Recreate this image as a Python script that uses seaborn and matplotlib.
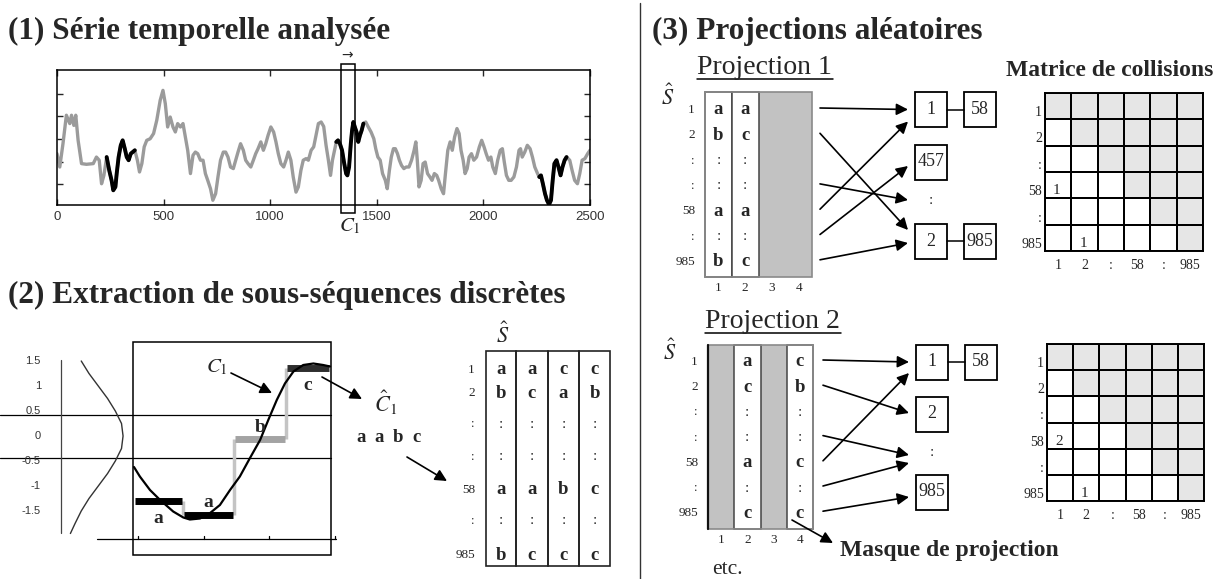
import numpy as np
import pandas as pd
import matplotlib
matplotlib.use('Agg')
import matplotlib.pyplot as plt
from matplotlib.patches import Rectangle
from matplotlib.colors import ListedColormap
import seaborn as sns

sns.set_theme(style='white')
plt.rcParams['font.family'] = ['Liberation Serif', 'DejaVu Serif']
plt.rcParams['mathtext.fontset'] = 'stix'

# ---------------- data ----------------
# (1) analysed time series
ts_x = [0, 13, 28, 44, 60, 68, 79, 88, 99, 115,
        138, 170, 185, 198, 209, 220, 233, 245, 256, 264,
        274, 280, 289, 299, 308, 318, 327, 336, 346, 355,
        365, 377, 387, 398, 409, 421, 437, 453, 468, 484,
        497, 508, 519, 531, 544, 555, 566, 579, 591, 602,
        613, 626, 638, 649, 660, 673, 685, 696, 707, 720,
        731, 744, 755, 767, 780, 791, 802, 814, 827, 838,
        849, 861, 874, 885, 896, 909, 921, 932, 943, 956,
        968, 979, 990, 1003, 1016, 1027, 1038, 1050, 1063, 1074,
        1085, 1097, 1108, 1121, 1132, 1144, 1155, 1168, 1179, 1192,
        1204, 1215, 1226, 1239, 1251, 1262, 1273, 1283, 1292, 1302,
        1310, 1318, 1327, 1337, 1346, 1356, 1362, 1370, 1378, 1384,
        1390, 1397, 1405, 1413, 1421, 1429, 1437, 1448, 1460, 1473,
        1486, 1495, 1505, 1516, 1527, 1540, 1549, 1559, 1568, 1578,
        1587, 1597, 1606, 1616, 1627, 1638, 1651, 1663, 1675, 1683,
        1690, 1698, 1708, 1717, 1727, 1738, 1749, 1759, 1770, 1781,
        1790, 1802, 1813, 1822, 1833, 1844, 1854, 1865, 1876, 1886,
        1895, 1905, 1914, 1924, 1933, 1944, 1955, 1968, 1981, 1992,
        2003, 2013, 2024, 2035, 2044, 2056, 2067, 2079, 2089, 2098,
        2108, 2119, 2130, 2143, 2155, 2167, 2174, 2182, 2194, 2206,
        2219, 2230, 2241, 2254, 2262, 2270, 2279, 2289, 2298, 2308,
        2317, 2325, 2333, 2343, 2352, 2362, 2371, 2381, 2390, 2405,
        2416, 2428, 2441, 2452, 2463, 2476, 2489, 2500]
ts_y = [-0.65, -1.24, -0.21, 1.05, 0.68, 1.05, 0.60, 1.05, -0.06, -1.09,
        -1.12, -1.09, -0.80, -0.94, -1.98, -1.61, -0.80, -1.39, -1.83, -2.27,
        -2.12, -1.53, -0.80, -0.28, -0.06, -0.43, -0.80, -0.94, -0.65, -0.58,
        -0.50, -0.94, -1.46, -1.09, -0.35, -0.06, 0.01, 0.24, 0.83, 1.71,
        2.15, 1.56, 0.53, 0.97, 0.53, 0.31, 0.68, 0.53, 0.68, 0.09,
        -0.50, -1.53, -0.72, -0.58, -0.65, -0.94, -0.94, -1.53, -1.83, -2.20,
        -2.71, -2.42, -1.68, -0.94, -0.58, -0.58, -0.80, -1.24, -1.31, -0.94,
        -0.58, -0.21, -0.50, -0.94, -1.09, -1.24, -0.94, -0.65, -0.43, -0.13,
        -0.50, -0.21, 0.16, 0.53, 0.31, -0.13, -0.65, -1.09, -1.24, -0.94,
        -0.58, -0.94, -1.68, -2.35, -2.12, -1.39, -0.94, -0.87, -0.94, -0.50,
        -0.35, 0.16, 0.68, 0.75, 0.55, -0.28, -0.94, -1.61, -0.94, -0.50,
        -0.13, -0.06, -0.21, -0.50, -1.02, -1.53, -1.61, -1.24, -0.21, 0.38,
        0.75, 0.53, 0.31, -0.13, 0.16, 0.38, 0.68, 0.75, 0.53, 0.31,
        0.01, -0.43, -0.80, -0.94, -1.53, -1.83, -2.20, -1.39, -0.80, -0.43,
        -0.43, -0.65, -0.94, -1.17, -1.31, -1.24, -1.24, -0.94, -0.50, -0.13,
        -0.94, -2.12, -1.83, -1.09, -1.02, -1.53, -1.68, -1.83, -1.53, -1.61,
        -1.83, -2.20, -2.42, -1.53, -0.50, -0.13, -0.50, 0.09, 0.46, 0.24,
        -0.50, -0.94, -1.53, -1.31, -0.80, -0.65, -0.94, -0.80, -0.35, -0.06,
        -0.35, -0.65, -0.94, -0.80, -1.24, -1.53, -0.94, -0.50, -0.43, -1.02,
        -1.61, -1.83, -1.83, -1.68, -1.24, -0.50, -0.43, -0.80, -0.58, -0.28,
        -0.43, -0.80, -1.24, -1.53, -1.68, -1.61, -1.98, -2.42, -2.71, -2.90,
        -2.71, -1.83, -1.09, -0.94, -1.24, -1.61, -1.24, -0.94, -0.80, -0.94,
        -1.39, -1.83, -1.98, -1.53, -0.94, -0.87, -0.65, -0.50]
motif_spans = [(233, 365), (1310, 1437), (2262, 2390)]
c1_window = (1333, 1400)
ts_ticks = [0, 500, 1000, 1500, 2000, 2500]

# (2) SAX discretisation of C1
sax_t = [0, 1.8, 4.9, 8, 12, 15.1, 17.1, 20.2, 23.3, 26.3, 29.4,
         32.4, 35.5, 38.6, 41.1, 43.7, 46.2, 48.8, 51.8, 54.9, 57.9, 60]
sax_v = [-0.62, -0.81, -1.08, -1.28, -1.51, -1.63, -1.67, -1.65, -1.54, -1.38, -1.08,
         -0.81, -0.44, -0.08, 0.32, 0.72, 1.05, 1.29, 1.42, 1.45, 1.42, 1.39]
paa_edges = [0, 15, 30.5, 46.5, 60]
paa_levels = [-1.29, -1.58, -0.05, 1.36]
paa_symbols = ['a', 'a', 'b', 'c']
breakpoints = [-0.43, 0.43]
gauss_y = [1.5, 1.25, 1.0, 0.75, 0.5, 0.25, 0.0, -0.25, -0.5, -0.75, -1.0, -1.25, -1.5, -1.75, -1.95]
gauss_d = [0.13, 0.18, 0.24, 0.30, 0.35, 0.39, 0.40, 0.39, 0.35, 0.30, 0.24, 0.18, 0.13, 0.09, 0.06]
sax_yticks = [1.5, 1, 0.5, 0, -0.5, -1, -1.5]
sax_yticklabels = ['1.5', '1', '0.5', '0', '-0.5', '-1', '-1.5']

# words table S^
row_labels = ['1', '2', ':', ':', '58', ':', '985']
words = {'1': 'aacc', '2': 'bcab', '58': 'aabc', '985': 'bccc'}

# (3) random projections
mask_1 = [1, 1, 0, 0]
mask_2 = [0, 1, 0, 1]
buckets_1 = ['1', '457', ':', '2']
partners_1 = ['58', '', '', '985']
buckets_2 = ['1', '2', ':', '985']
partners_2 = ['58', '', '', '']
links_1 = [(0, 0), (1, 3), (3, 2), (4, 0), (5, 1), (6, 3)]
links_2 = [(0, 0), (1, 1), (3, 2), (4, 0), (5, 2), (6, 3)]
matrix_labels = ['1', '2', ':', '58', ':', '985']
collisions_1 = {(3, 0): 1, (5, 1): 1}
collisions_2 = {(3, 0): 2, (5, 1): 1}

# ---------------- figure ----------------
W, H = 1216, 579
fig = plt.figure(figsize=(W / 100, H / 100), dpi=100)


def px_axes(x0, y0, x1, y1):
    return fig.add_axes([x0 / W, 1 - y1 / H, (x1 - x0) / W, (y1 - y0) / H])


ov = px_axes(0, 0, W, H)
ov.set_xlim(0, W)
ov.set_ylim(H, 0)
ov.axis('off')
ov.set_zorder(10)

ARW = dict(arrowstyle='-|>,head_length=0.5,head_width=0.25', color='black',
           lw=1.2, mutation_scale=14, shrinkA=0, shrinkB=0)


def arrow(x0, y0, x1, y1):
    ov.annotate('', xy=(x1, y1), xytext=(x0, y0), arrowprops=ARW)


# titles
ov.text(8, 39, '(1) Série temporelle analysée', fontsize=22.5, fontweight='bold')
ov.text(8, 303, '(2) Extraction de sous-séquences discrètes', fontsize=22.5, fontweight='bold')
ov.text(652, 39, '(3) Projections aléatoires', fontsize=22.5, fontweight='bold')
ov.plot([640, 640], [3, 579], color='#333', lw=1)

# ---- panel 1 : time series
ax1 = px_axes(57, 70, 590, 205)
df_ts = pd.DataFrame({'t': ts_x, 'v': ts_y})
sns.lineplot(data=df_ts, x='t', y='v', ax=ax1, color='#9b9b9b', lw=2.4,
             estimator=None, sort=False)
for a, b in motif_spans:
    seg = df_ts[(df_ts.t >= a) & (df_ts.t <= b)]
    sns.lineplot(data=seg, x='t', y='v', ax=ax1, color='black', lw=2.8,
                 estimator=None, sort=False)
ax1.set_xlim(0, 2500)
ax1.set_ylim(-2.92, 3.05)
ax1.set_xticks(ts_ticks)
ax1.set_xticklabels([str(t) for t in ts_ticks], family='Liberation Sans')
ax1.set_yticks([-2, -1, 0, 1, 2])
ax1.set_yticklabels([])
ax1.set_xlabel('')
ax1.set_ylabel('')
ax1.tick_params(direction='in', length=4, width=1, top=True, right=True,
                bottom=True, left=True, labelsize=9.5, labelcolor='#333', pad=4)
for sp in ax1.spines.values():
    sp.set_color('black')
    sp.set_linewidth(1.1)
ax1.add_patch(Rectangle((c1_window[0], -3.27), c1_window[1] - c1_window[0], 6.59,
                        fill=False, ec='black', lw=1.1, clip_on=False))
ov.text(347, 55, '→', family='DejaVu Sans', fontsize=10, ha='center', va='center')
ov.text(350, 226, '$C_1$', fontsize=15, ha='center', va='center')

# ---- panel 2 : SAX
ax2 = px_axes(0, 340, 340, 560)
ax2.axis('off')
for bp in breakpoints:
    ax2.plot([-41, 60.3], [bp, bp], color='black', lw=0.9)
ax2.add_patch(Rectangle((-0.3, -2.38), 60.6, 4.26, fill=False, ec='black', lw=1.1))
ax2.plot([-22.3, -22.3], [1.52, -1.94], color='#444', lw=0.9)
sns.lineplot(x=-22.3 + np.array(gauss_d) * 47.4, y=gauss_y, ax=ax2, color='#333',
             lw=1.0, sort=False, estimator=None)
ax2.plot([-11.3, 61.8], [-2.06, -2.06], color='black', lw=0.9)
for tx in [1.2, 21.4, 41.3, 61.5]:
    ax2.plot([tx, tx], [-2.06, -1.99], color='black', lw=0.9)
for yv, lab in zip(sax_yticks, sax_yticklabels):
    ax2.text(-28.5, yv, lab, ha='right', va='center', fontsize=8,
             family='Liberation Sans', color='#333')
sym_color = {'a': 'black', 'b': '#a3a3a3', 'c': '#2e2e2e'}
for i in range(1, 4):
    ax2.plot([paa_edges[i], paa_edges[i]], [paa_levels[i - 1], paa_levels[i]],
             color='#c4c4c4', lw=2.5, solid_capstyle='butt')
for i, (lvl, s) in enumerate(zip(paa_levels, paa_symbols)):
    ax2.plot([paa_edges[i] + 0.3, paa_edges[i + 1] - 0.3], [lvl, lvl],
             color=sym_color[s], lw=5, solid_capstyle='butt')
sns.lineplot(x=sax_t, y=sax_v, ax=ax2, color='black', lw=1.6, sort=False, estimator=None)
lab_off = [-0.36, 0.25, 0.22, -0.35]
for i, (lvl, s) in enumerate(zip(paa_levels, paa_symbols)):
    ax2.text((paa_edges[i] + paa_edges[i + 1]) / 2, lvl + lab_off[i], s,
             ha='center', va='center', fontsize=14, fontweight='bold')
ax2.set_xlim(-41.0, 63.05)
ax2.set_ylim(-2.48, 1.92)

ov.text(217, 367, '$C_1$', fontsize=15, ha='center', va='center')
arrow(231, 373, 272, 393)
arrow(322, 377, 362, 399)
ov.text(386, 403, r'$\hat{C}_1$', fontsize=16, ha='center', va='center')
for i, s in enumerate(paa_symbols):
    ov.text(361 + 18.5 * i, 438, s, ha='center', va='center', fontsize=13.5, fontweight='bold')
arrow(407, 457, 447, 481)

# S^ table
ov.text(503, 335, r'$\hat{S}$', fontsize=16, ha='center', va='center')
col_edges = [486, 516, 548, 579, 610]
rows_y = [370, 393, 424, 457, 490, 521, 555]
for c in range(4):
    ov.add_patch(Rectangle((col_edges[c], 351), col_edges[c + 1] - col_edges[c], 215,
                           fill=False, ec='#222', lw=1.2))
for r, lab in enumerate(row_labels):
    ov.text(475, rows_y[r], lab, ha='right', va='center', fontsize=9.5)
    for c in range(4):
        xc = (col_edges[c] + col_edges[c + 1]) / 2
        if lab == ':':
            ov.text(xc, rows_y[r], ':', ha='center', va='center', fontsize=11)
        else:
            ov.text(xc, rows_y[r], words[lab][c], ha='center', va='center',
                    fontsize=13.5, fontweight='bold')


# ---- panel 3 : projections
def draw_projection(x0, top, bottom, colw, ys, mask, dark_left):
    for c, keep in enumerate(mask):
        xs = x0 + c * colw
        if keep:
            ov.add_patch(Rectangle((xs, top), colw, bottom - top, fc='white',
                                   ec='#444', lw=1.1, zorder=2))
        else:
            ov.add_patch(Rectangle((xs, top), colw, bottom - top, fc='#c2c2c2',
                                   ec='none', zorder=1))
    ov.add_patch(Rectangle((x0, top), 4 * colw, bottom - top, fill=False,
                           ec='#8a8a8a', lw=1.2, zorder=3))
    if dark_left:
        ov.plot([x0, x0], [top, bottom], color='#111', lw=1.6, zorder=4)
    for r, lab in enumerate(row_labels):
        ov.text(x0 - 10, ys[r], lab, ha='right', va='center', fontsize=9.5)
        for c, keep in enumerate(mask):
            if not keep:
                continue
            xc = x0 + (c + 0.5) * colw
            if lab == ':':
                ov.text(xc, ys[r], ':', ha='center', va='center', fontsize=11, zorder=5)
            else:
                ov.text(xc, ys[r], words[lab][c], ha='center', va='center',
                        fontsize=13.5, fontweight='bold', zorder=5)
    for c in range(4):
        ov.text(x0 + (c + 0.5) * colw, bottom + 11, str(c + 1), ha='center',
                va='center', fontsize=9.5)


def draw_buckets(xb, ys, labels, partners):
    for y, lab, par in zip(ys, labels, partners):
        if lab == ':':
            ov.text(xb + 16, y, ':', ha='center', va='center', fontsize=11)
            continue
        ov.add_patch(Rectangle((xb, y - 17.5), 32, 35, fill=False, ec='black', lw=1.3))
        ov.text(xb + 16, y, lab, ha='center', va='center', fontsize=13)
        if par:
            ov.plot([xb + 32, xb + 49], [y, y], color='black', lw=1.1)
            ov.add_patch(Rectangle((xb + 49, y - 17.5), 32, 35, fill=False,
                                   ec='black', lw=1.3))
            ov.text(xb + 65, y, par, ha='center', va='center', fontsize=13)


def draw_matrix(x0, top, size, counts):
    axm = px_axes(x0, top, x0 + size, top + size)
    upper = np.triu(np.ones((6, 6)))
    sns.heatmap(upper, ax=axm, cmap=ListedColormap(['white', '#e6e6e6']), vmin=0,
                vmax=1, cbar=False, linewidths=1.4, linecolor='black',
                xticklabels=matrix_labels, yticklabels=matrix_labels)
    axm.tick_params(length=0, labelsize=10)
    axm.tick_params(axis='y', pad=2, rotation=0)
    axm.tick_params(axis='x', pad=6, rotation=0)
    for lab in axm.get_yticklabels():
        lab.set_verticalalignment('top')
    for sp in axm.spines.values():
        sp.set_visible(True)
        sp.set_color('black')
        sp.set_linewidth(1.4)
    for (i, j), v in counts.items():
        axm.text(j + 0.45, i + 0.72, str(v), ha='center', va='center', fontsize=11)


# projection 1
ov.text(697, 74, 'Projection 1', fontsize=20)
ov.plot([697, 833], [79, 79], color='black', lw=1.1)
ov.text(668, 97, r'$\hat{S}$', fontsize=16, ha='center', va='center')
ys1 = 110 + 25.3 * np.arange(7)
draw_projection(705, 92, 277, 26.75, ys1, mask_1, False)
bys1 = [109.5, 162, 200, 241]
draw_buckets(915, bys1, buckets_1, partners_1)
end_off_1 = [0, -11, 0, 12, 4, 2]
for (r, b), off in zip(links_1, end_off_1):
    arrow(820, ys1[r] - 2, 908, bys1[b] + off)
ov.text(1006, 76, 'Matrice de collisions', fontsize=17, fontweight='bold')
draw_matrix(1045, 93, 158, collisions_1)

# projection 2
ov.text(705, 328, 'Projection 2', fontsize=20)
ov.plot([705, 841], [333, 333], color='black', lw=1.1)
ov.text(670, 352, r'$\hat{S}$', fontsize=16, ha='center', va='center')
ys2 = 362 + 25.2 * np.arange(7)
draw_projection(708, 345, 529, 26.25, ys2, mask_2, True)
bys2 = [362, 414, 453, 492]
draw_buckets(916, bys2, buckets_2, partners_2)
end_off_2 = [0, -1, 2, 11, 10, 5]
for (r, b), off in zip(links_2, end_off_2):
    arrow(823, ys2[r] - 2, 909, bys2[b] + off)
draw_matrix(1047, 344, 157, collisions_2)

arrow(792, 520, 833, 543)
ov.text(840, 556, 'Masque de projection', fontsize=17, fontweight='bold')
ov.text(712, 574, 'etc.', fontsize=15.5)

fig.savefig('out.png', dpi=100)
